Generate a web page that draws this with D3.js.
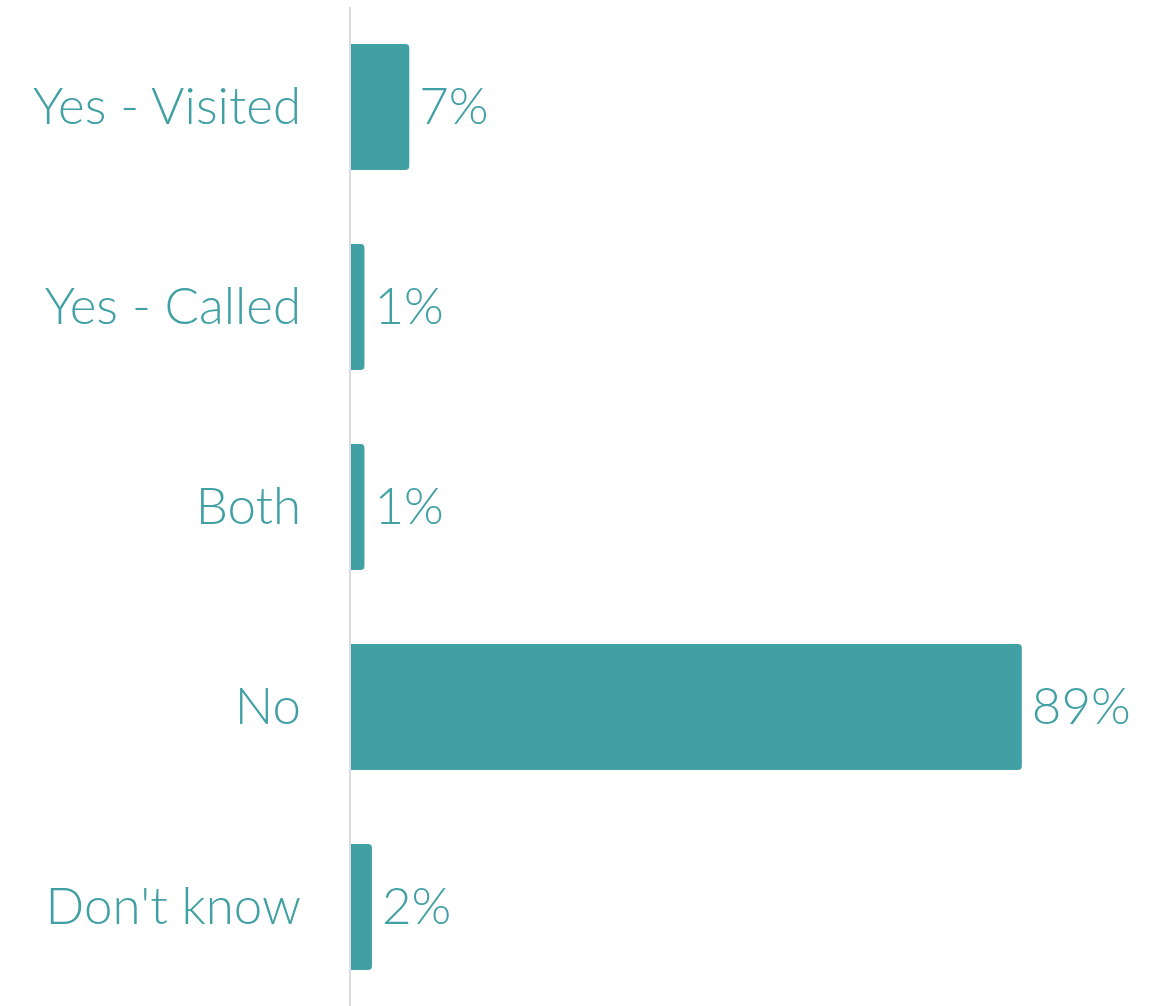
<!DOCTYPE html>
<html>
<head>
<meta charset="utf-8">
<script src="https://cdn.jsdelivr.net/npm/d3@7"></script>
<style>
  html, body { margin: 0; padding: 0; background: #fff; }
  svg { display: block; }
  text { font-family: Lato, "Open Sans", sans-serif; font-weight: 300; }
</style>
</head>
<body>
<svg id="chart" width="1158" height="1006"></svg>
<script>
// Survey responses (percent of respondents)
const categories = ["Yes - Visited", "Yes - Called", "Both", "No", "Don't know"];
const values = [7, 1, 1, 89, 2];
const valueLabels = ["7%", "1%", "1%", "89%", "2%"];

const W = 1158, H = 1006;
const teal = "#40a0a4";
const axisX = 350;
const x0 = 357;

const svg = d3.select("#chart");

const x = d3.scaleLinear().domain([0, 100]).range([x0, x0 + 747]);
const y = d3.scaleBand().domain(categories).range([7, 1007]).paddingInner(0.37).paddingOuter(0.185);

// Bars: start just behind the axis line so only the right corners show rounded
const g = svg.append("g");
g.selectAll("path.bar")
  .data(categories)
  .join("path")
  .attr("class", "bar")
  .attr("fill", teal)
  .attr("d", (c, i) => {
    const left = axisX, right = x(values[i]);
    const top = y(c), bot = y(c) + y.bandwidth();
    const r = 4;
    return `M${left},${top}H${right - r}Q${right},${top} ${right},${top + r}` +
           `V${bot - r}Q${right},${bot} ${right - r},${bot}H${left}Z`;
  });

// Vertical baseline
svg.append("line")
  .attr("x1", axisX).attr("x2", axisX)
  .attr("y1", 7).attr("y2", H)
  .attr("stroke", "#dcdcdc").attr("stroke-width", 2);

// Category labels
const yAxis = d3.axisLeft(y).tickSize(0).tickPadding(0);
const ag = svg.append("g").attr("transform", "translate(301,0)").call(yAxis);
ag.select(".domain").remove();
ag.selectAll("text")
  .attr("fill", teal)
  .attr("font-size", 51)
  .attr("dy", "0.33em")
  .style("font-family", "Lato, 'Open Sans', sans-serif")
  .style("font-weight", 300);

// Value labels
g.selectAll("text.val")
  .data(categories)
  .join("text")
  .attr("class", "val")
  .attr("x", (c, i) => x(values[i]) + 10)
  .attr("y", c => y(c) + y.bandwidth() / 2)
  .attr("dy", "0.33em")
  .attr("fill", teal)
  .attr("font-size", 51)
  .text((c, i) => valueLabels[i]);
</script>
</body>
</html>
